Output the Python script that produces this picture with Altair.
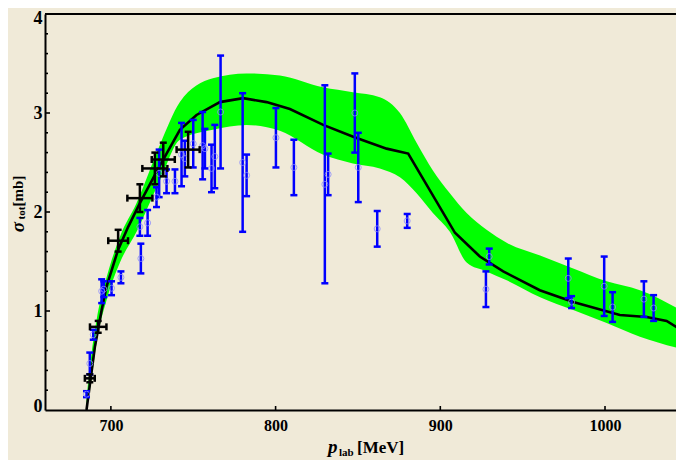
import altair as alt
import pandas as pd

# ---------------- data ----------------
curve_mev = [685.2, 690.3, 694.4, 697.4, 704.4, 710.5, 717.6, 729.8, 741.9, 752.0,
             766.2, 780.3, 794.5, 808.7, 828.9, 847.1, 867.4, 880.5, 908.9, 924.0,
             938.2, 960.4, 980.7, 1009.0, 1025.3, 1037.4, 1048.0]
curve_sigma = [0.0, 0.64, 1.01, 1.25, 1.62, 1.85, 2.09, 2.47, 2.83, 2.98,
               3.11, 3.15, 3.11, 3.04, 2.88, 2.76, 2.64, 2.59, 1.79, 1.55,
               1.40, 1.21, 1.09, 0.96, 0.94, 0.90, 0.79]

band_mev = [685.2, 688.3, 691.3, 697.4, 705.5, 715.6, 729.8, 741.9, 761.9, 782.4,
            802.6, 828.7, 846.9, 863.3, 875.5, 885.6, 895.5, 905.8, 916.0, 928.1,
            940.3, 960.6, 980.7, 1001.0, 1021.2, 1048.0]
band_hi = [0.12, 0.58, 0.91, 1.34, 1.75, 2.09, 2.68, 3.11, 3.35, 3.40,
           3.38, 3.26, 3.21, 3.16, 3.00, 2.70, 2.42, 2.19, 1.99, 1.82,
           1.69, 1.56, 1.43, 1.30, 1.21, 0.99]
band_lo = [0.0, 0.32, 0.68, 1.11, 1.49, 1.80, 2.32, 2.73, 2.83, 2.88,
           2.82, 2.58, 2.49, 2.44, 2.35, 2.19, 1.99, 1.80, 1.49, 1.40,
           1.31, 1.14, 1.01, 0.88, 0.74, 0.61]

blue_mev = [685.2, 687.2, 689.3, 694.4, 695.7, 700.4, 706.1, 717.6, 718.2, 722.3,
            727.7, 729.3, 733.8, 738.9, 742.9, 744.9, 750.0, 755.7, 757.1, 761.1,
            763.1, 766.6, 780.0, 782.4, 800.2, 811.1, 829.9, 831.9, 848.1, 850.2,
            861.7, 879.9, 927.7, 929.7, 977.7, 979.7, 999.5, 1004.6, 1023.6, 1029.5]
blue_sigma = [0.16, 0.47, 0.76, 1.20, 1.22, 1.23, 1.34, 1.85, 1.53, 1.89,
              2.15, 2.39, 2.31, 2.31, 2.58, 2.54, 2.69, 2.67, 2.64, 2.44,
              2.56, 3.01, 2.50, 2.37, 2.75, 2.45, 2.28, 2.38, 3.00, 2.45,
              1.83, 1.91, 1.22, 1.55, 1.33, 1.09, 1.25, 1.04, 1.12, 1.03]
blue_err = [0.03, 0.11, 0.05, 0.12, 0.08, 0.07, 0.06, 0.09, 0.15, 0.13,
            0.10, 0.24, 0.12, 0.12, 0.32, 0.18, 0.24, 0.34, 0.20, 0.24,
            0.32, 0.57, 0.70, 0.21, 0.30, 0.28, 1.00, 0.21, 0.40, 0.35,
            0.18, 0.07, 0.18, 0.08, 0.20, 0.06, 0.30, 0.15, 0.18, 0.13]

black_mev = [687.2, 692.3, 704.4, 717.6, 726.7, 731.8, 746.9]
black_sigma = [0.32, 0.84, 1.71, 2.14, 2.44, 2.53, 2.63]
black_yerr = [0.04, 0.06, 0.11, 0.14, 0.16, 0.17, 0.18]
black_xerr = [3.0, 5.0, 6.0, 7.6, 7.6, 7.0, 7.0]

x_tick_values = [700, 800, 900, 1000]
y_tick_values = [0, 1, 2, 3, 4]
y_minor_values = [0.2, 0.4, 0.6, 0.8, 1.2, 1.4, 1.6, 1.8, 2.2, 2.4, 2.6, 2.8,
                  3.2, 3.4, 3.6, 3.8]
x_domain = [660, 1043.1]
y_domain = [0, 4]

y_title_parts = ["σ", "tot", "[mb]"]
x_title_parts = ["p", "lab", "[MeV]"]

# ---------------- build tables ----------------
curve_df = pd.DataFrame({"mev": curve_mev, "sigma": curve_sigma})
band_df = pd.DataFrame({"mev": band_mev, "lo": band_lo, "hi": band_hi})
blue_df = pd.DataFrame({"mev": blue_mev, "sigma": blue_sigma, "err": blue_err})
blue_df["lo"] = blue_df["sigma"] - blue_df["err"]
blue_df["hi"] = blue_df["sigma"] + blue_df["err"]
blk = pd.DataFrame({"mev": black_mev, "sigma": black_sigma,
                    "ye": black_yerr, "xe": black_xerr})
blk["ylo"] = blk["sigma"] - blk["ye"]
blk["yhi"] = blk["sigma"] + blk["ye"]
blk["xlo"] = blk["mev"] - blk["xe"]
blk["xhi"] = blk["mev"] + blk["xe"]
one = pd.DataFrame({"d": [0]})

W, H = 631, 396
SERIF = "Liberation Serif"
BLUE = "#0000ff"
GREEN = "#00ff00"
BG = "#f0ead8"

xs = alt.Scale(domain=x_domain, nice=False, zero=False)
ys = alt.Scale(domain=y_domain, nice=False, zero=False)

xaxis = alt.Axis(values=x_tick_values, title=None, ticks=False, tickSize=0, grid=False,
                 labelFont=SERIF, labelFontWeight="bold", labelFontSize=16,
                 labelColor="black", labelPadding=7, domainColor="black",
                 domainWidth=2, format="d", labelFlush=False)
yaxis = alt.Axis(values=y_tick_values, title=None, ticks=False, tickSize=0, grid=False,
                 labelFont=SERIF, labelFontWeight="bold", labelFontSize=18,
                 labelColor="black", labelPadding=3, domainColor="black",
                 domainWidth=2, format="d", labelFlush=True, labelFlushOffset=5)

X = lambda f: alt.X(f, type="quantitative", scale=xs, axis=xaxis)
Y = lambda f: alt.Y(f, type="quantitative", scale=ys, axis=yaxis)

band = alt.Chart(band_df).mark_area(color=GREEN, interpolate="monotone", clip=True).encode(
    x=X("mev"), y=Y("lo"), y2="hi",
)

curve = alt.Chart(curve_df).mark_line(color="black", strokeWidth=2.6, clip=True).encode(
    x=X("mev"), y=Y("sigma")
)

blue_bar = alt.Chart(blue_df).mark_rule(color=BLUE, strokeWidth=2.5).encode(
    x=X("mev"), y=Y("lo"), y2="hi"
)
blue_cap_lo = alt.Chart(blue_df).mark_tick(color=BLUE, orient="horizontal", size=7,
                                           thickness=2.5, opacity=1).encode(
    x=X("mev"), y=Y("lo"))
blue_cap_hi = alt.Chart(blue_df).mark_tick(color=BLUE, orient="horizontal", size=7,
                                           thickness=2.5, opacity=1).encode(
    x=X("mev"), y=Y("hi"))
blue_pts = alt.Chart(blue_df).mark_point(shape="circle", filled=False, color="#8c8cff",
                                         size=36, strokeWidth=1, opacity=0.8).encode(
    x=X("mev"), y=Y("sigma"))

blk_v = alt.Chart(blk).mark_rule(color="black", strokeWidth=2.5).encode(
    x=X("mev"), y=Y("ylo"), y2="yhi")
blk_h = alt.Chart(blk).mark_rule(color="black", strokeWidth=2.5).encode(
    x=X("xlo"), x2="xhi", y=Y("sigma"))
blk_c1 = alt.Chart(blk).mark_tick(color="black", orient="horizontal", size=7,
                                  thickness=2.5, opacity=1).encode(x=X("mev"), y=Y("ylo"))
blk_c2 = alt.Chart(blk).mark_tick(color="black", orient="horizontal", size=7,
                                  thickness=2.5, opacity=1).encode(x=X("mev"), y=Y("yhi"))
blk_c3 = alt.Chart(blk).mark_tick(color="black", orient="vertical", size=7,
                                  thickness=2.5, opacity=1).encode(x=X("xlo"), y=Y("sigma"))
blk_c4 = alt.Chart(blk).mark_tick(color="black", orient="vertical", size=7,
                                  thickness=2.5, opacity=1).encode(x=X("xhi"), y=Y("sigma"))

# frame line on top and inward ticks
top_line = alt.Chart(one).mark_rule(color="black", strokeWidth=2).encode(
    y=alt.datum(y_domain[1], scale=ys, axis=yaxis), x=alt.value(0), x2=alt.value(W))
ymaj = alt.Chart(pd.DataFrame({"v": y_tick_values[1:-1]})).mark_rule(
    color="black", strokeWidth=1.6).encode(y=Y("v"), x=alt.value(0), x2=alt.value(5))
ymin = alt.Chart(pd.DataFrame({"v": y_minor_values})).mark_rule(
    color="black", strokeWidth=1.6).encode(y=Y("v"), x=alt.value(0), x2=alt.value(3))
xmaj = alt.Chart(pd.DataFrame({"v": x_tick_values})).mark_rule(
    color="black", strokeWidth=1.6).encode(x=X("v"), y=alt.value(H), y2=alt.value(H - 4))

# axis titles built from pieces (subscripts)
def txt(s, x, y, size, italic=False, angle=0, align="left", baseline="alphabetic"):
    return alt.Chart(one).mark_text(
        text=s, font=SERIF, fontSize=size, fontWeight="bold",
        fontStyle="italic" if italic else "normal", color="black",
        angle=angle, align=align, baseline=baseline,
    ).encode(x=alt.value(x), y=alt.value(y))

ylab = [
    txt(y_title_parts[0], -27, 213, 19, italic=True, angle=270, align="center", baseline="middle"),
    txt(y_title_parts[1], -23, 199, 11, angle=270, align="center", baseline="middle"),
    txt(y_title_parts[2], -27, 177, 15, angle=270, align="center", baseline="middle"),
]
xlab = [
    txt(x_title_parts[0], 283, 439, 19, italic=True),
    txt(x_title_parts[1], 294, 442, 11),
    txt(x_title_parts[2], 312, 439, 17),
]

chart = alt.layer(
    band, curve, blue_bar, blue_cap_lo, blue_cap_hi, blue_pts,
    blk_v, blk_h, blk_c1, blk_c2, blk_c3, blk_c4,
    top_line, ymaj, ymin, xmaj, *ylab, *xlab
).properties(
    width=W, height=H,
    autosize=alt.AutoSizeParams(type="none"),
    padding={"left": 37, "top": 6, "right": 0, "bottom": 50},
    background=BG,
).configure_view(stroke=None, fill=BG)

chart.save("out.html", embed_options={"renderer": "svg", "actions": False})
